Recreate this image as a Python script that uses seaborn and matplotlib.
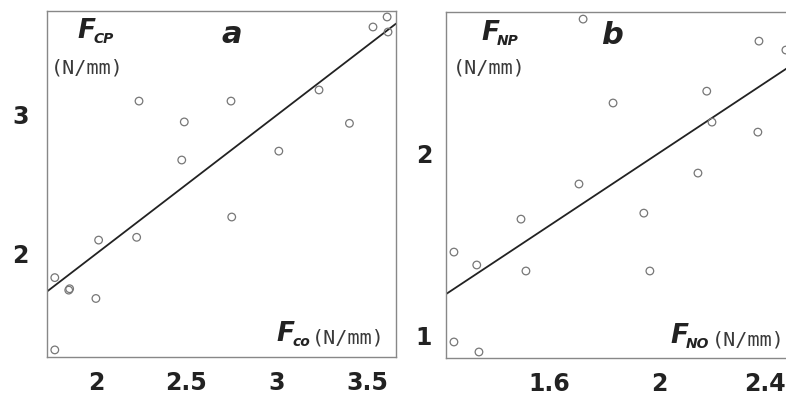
import matplotlib
matplotlib.use("Agg")
import matplotlib.pyplot as plt
import matplotlib.transforms as mtransforms
import seaborn as sns
import pandas as pd

# ---- data ----
a_x = [3.608, 3.53, 3.613, 3.232, 2.238, 2.746, 2.488, 3.40, 2.474, 3.01,
       2.75, 2.015, 2.225, 1.773, 1.85, 1.855, 2.0, 1.773]
a_y = [3.705, 3.633, 3.597, 3.18, 3.10, 3.10, 2.95, 2.94, 2.676, 2.74,
       2.266, 2.10, 2.12, 1.83, 1.74, 1.75, 1.68, 1.31]
b_x = [1.724, 2.364, 2.462, 2.174, 1.833, 2.193, 2.36, 2.142, 1.709,
       1.945, 1.498, 1.254, 1.337, 1.516, 1.967, 1.254, 1.345]
b_y = [2.736, 2.615, 2.566, 2.34, 2.275, 2.17, 2.115, 1.89, 1.83,
       1.67, 1.637, 1.456, 1.385, 1.352, 1.352, 0.962, 0.907]
line_slope = [1.0, 1.0]
line_intercept = [0.0, 0.0]
a_xticks = [2, 2.5, 3, 3.5]
a_xticklabels = ["2", "2.5", "3", "3.5"]
a_yticks = [2, 3]
a_yticklabels = ["2", "3"]
b_xticks = [1.6, 2.0, 2.4]
b_xticklabels = ["1.6", "2", "2.4"]
b_yticks = [1, 2]
b_yticklabels = ["1", "2"]
panel_letters = ["a", "b"]
y_subs = ["CP", "NP"]
x_subs = ["co", "NO"]
unit = "(N/mm)"

sns.set_style("white")
plt.rcParams["font.family"] = ["DejaVu Sans"]

fig = plt.figure(figsize=(7.86, 4.0), dpi=100)
ax_a = fig.add_axes([0.0598, 0.1075, 0.444, 0.865])
ax_b = fig.add_axes([0.5674, 0.105, 0.444, 0.865])

specs = [
    (ax_a, a_x, a_y, (1.73, 3.657), (1.259, 3.748), a_xticks, a_xticklabels, a_yticks, a_yticklabels),
    (ax_b, b_x, b_y, (1.225, 2.495), (0.874, 2.775), b_xticks, b_xticklabels, b_yticks, b_yticklabels),
]

for i, (ax, xs, ys, xl, yl, xt, xtl, yt, ytl) in enumerate(specs):
    df = pd.DataFrame({"x": xs, "y": ys})
    sns.scatterplot(data=df, x="x", y="y", ax=ax, marker="o", s=30,
                    facecolor="none", edgecolor="#777777", linewidth=0.9, zorder=3)
    ax.axline((0, line_intercept[i]), slope=line_slope[i], color="#222222", lw=1.3, zorder=2)
    ax.set_xlim(*xl)
    ax.set_ylim(*yl)
    ax.set_xticks(xt)
    ax.set_xticklabels(xtl)
    ax.set_yticks(yt)
    ax.set_yticklabels(ytl)
    ax.set_xlabel("")
    ax.set_ylabel("")
    ax.tick_params(axis="both", direction="out", length=4, width=0.8, color="#888888",
                   labelsize=17, labelcolor="#222222")
    ax.tick_params(axis="x", pad=6)
    ax.tick_params(axis="y", pad=9 if i == 0 else 6)
    for lab in ax.get_xticklabels() + ax.get_yticklabels():
        lab.set_fontweight("bold")
    for sp in ax.spines.values():
        sp.set_color("#888888")
        sp.set_linewidth(1.0)

# the last tick label of panel b sits just inside the picture's right edge
last = ax_b.get_xticklabels()[-1]
last.set_transform(last.get_transform() +
                   mtransforms.ScaledTranslation(-4 / 100, 0, fig.dpi_scale_trans))

W = 349
H = 346
boxes = [(47, 11), (446, 12)]


def put(ax, idx, px, py, s, **kw):
    lx, ty = boxes[idx]
    ax.text((px - lx) / W, 1 - (py - ty) / H, s, transform=ax.transAxes,
            ha="left", va="baseline", **kw)


def fsym(ax, idx, px, py, sub):
    put(ax, idx, px, py, "F", fontsize=19, fontweight="bold", style="italic", color="#222222")
    put(ax, idx, px + 16, py + 5, sub, fontsize=10, fontweight="bold", style="italic", color="#222222")


mono = dict(fontsize=14.5, family="DejaVu Sans Mono", color="#3a3a3a")
let = dict(fontsize=22, fontweight="bold", style="italic", color="#222222")

# panel a
fsym(ax_a, 0, 77, 38, y_subs[0])
put(ax_a, 0, 51, 73, unit, **mono)
put(ax_a, 0, 221, 43, panel_letters[0], **let)
fsym(ax_a, 0, 276, 341, x_subs[0])
put(ax_a, 0, 312, 343, unit, **mono)

# panel b
fsym(ax_b, 1, 481, 40, y_subs[1])
put(ax_b, 1, 453, 73, unit, **mono)
put(ax_b, 1, 601, 44, panel_letters[1], **let)
fsym(ax_b, 1, 670, 343, x_subs[1])
put(ax_b, 1, 712, 345, unit, **mono)

fig.savefig("out.png", dpi=100)
